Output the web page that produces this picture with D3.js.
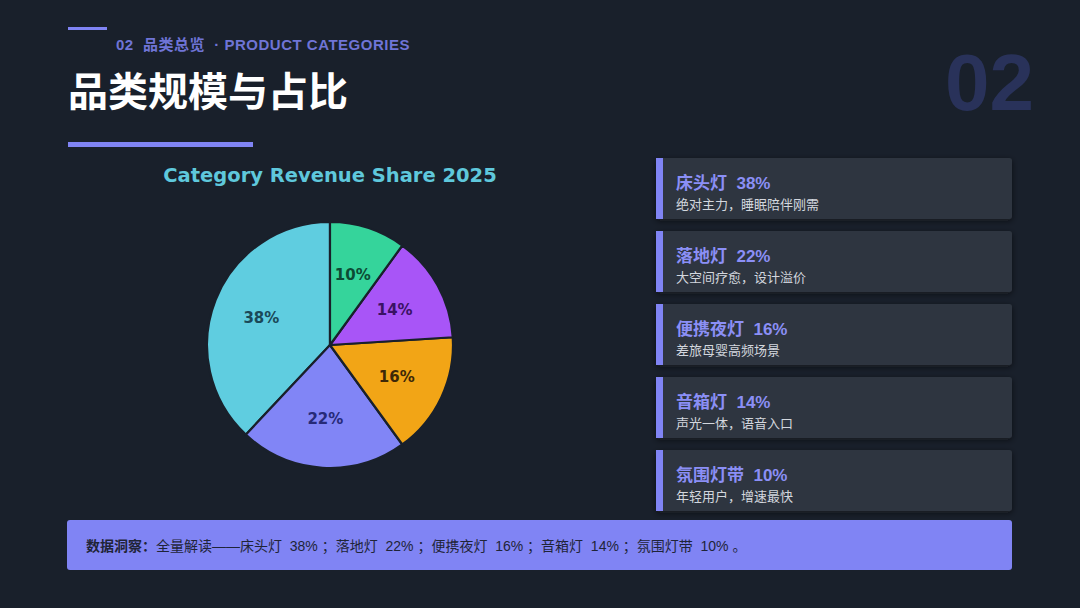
<!DOCTYPE html>
<html>
<head>
<meta charset="utf-8">
<script src="https://cdn.jsdelivr.net/npm/d3@7"></script>
<style>
  html, body { margin: 0; padding: 0; background: #19202b; }
  svg { display: block; }
</style>
</head>
<body>
<div id="slide"></div>
<script>
// Data
const categories = ["床头灯", "落地灯", "便携夜灯", "音箱灯", "氛围灯带"];
const shares = [38, 22, 16, 14, 10];
const notes = ["绝对主力，睡眠陪伴刚需", "大空间疗愈，设计溢价", "差旅母婴高频场景", "声光一体，语音入口", "年轻用户，增速最快"];
const sliceColors = ["#5fcde0", "#8185f6", "#f2a516", "#a855f7", "#35d49b"];
const labelColors = ["#1a4858", "#272a78", "#3d2808", "#3a1264", "#0c4a34"];

const width = 1080;
const height = 608;
const accent = "#8084f4";
const cjk = "'Noto Sans CJK SC', 'Noto Sans', sans-serif";
const mixed = "'Liberation Sans', 'Noto Sans CJK SC', sans-serif";

const svg = d3.select("#slide")
  .append("svg")
  .attr("width", width)
  .attr("height", height);

svg.append("rect")
  .attr("width", width)
  .attr("height", height)
  .attr("fill", "#19202b");

// Shadow filter for cards
const defs = svg.append("defs");
const shadow = defs.append("filter")
  .attr("id", "shadow")
  .attr("x", "-10%").attr("y", "-20%")
  .attr("width", "120%").attr("height", "150%");
shadow.append("feDropShadow")
  .attr("dx", 0).attr("dy", 2)
  .attr("stdDeviation", 3)
  .attr("flood-color", "#0b0f16")
  .attr("flood-opacity", 0.6);

// Header
svg.append("rect")
  .attr("x", 68).attr("y", 27)
  .attr("width", 39).attr("height", 3)
  .attr("fill", accent);

svg.append("text")
  .attr("x", 116).attr("y", 50)
  .attr("font-family", mixed)
  .attr("font-size", 15)
  .attr("font-weight", 700)
  .attr("letter-spacing", 0.5)
  .attr("fill", "#6f74d6")
  .style("white-space", "pre")
  .text("02  品类总览  · PRODUCT CATEGORIES");

svg.append("text")
  .attr("x", 68).attr("y", 106)
  .attr("font-family", cjk)
  .attr("font-size", 40)
  .attr("font-weight", 700)
  .attr("fill", "#ffffff")
  .text("品类规模与占比");

svg.append("rect")
  .attr("x", 68).attr("y", 142)
  .attr("width", 185).attr("height", 5)
  .attr("fill", accent);

svg.append("text")
  .attr("x", 1034).attr("y", 110)
  .attr("text-anchor", "end")
  .attr("font-family", "'Liberation Sans', Arial, sans-serif")
  .attr("font-size", 80)
  .attr("font-weight", 700)
  .attr("fill", "#29325a")
  .text("02");

// Pie chart
const cx = 330, cy = 345, radius = 123;

svg.append("text")
  .attr("x", cx).attr("y", 182)
  .attr("text-anchor", "middle")
  .attr("font-family", "'DejaVu Sans', sans-serif")
  .attr("font-size", 19.5)
  .attr("font-weight", 700)
  .attr("fill", "#5fc8dc")
  .text("Category Revenue Share 2025");

const pie = d3.pie()
  .sort(null)
  .startAngle(0)
  .endAngle(-2 * Math.PI)
  .value(d => d);

const arc = d3.arc().innerRadius(0).outerRadius(radius);
const labelArc = d3.arc().innerRadius(radius * 0.6).outerRadius(radius * 0.6);

const pieG = svg.append("g")
  .attr("transform", `translate(${cx},${cy})`);

const slices = pie(shares);

pieG.selectAll("path")
  .data(slices)
  .enter()
  .append("path")
  .attr("d", arc)
  .attr("fill", (d, i) => sliceColors[i])
  .attr("stroke", "#19202b")
  .attr("stroke-width", 2.2)
  .attr("stroke-linejoin", "round");

pieG.selectAll("text")
  .data(slices)
  .enter()
  .append("text")
  .attr("transform", d => `translate(${labelArc.centroid(d)})`)
  .attr("text-anchor", "middle")
  .attr("dy", "0.35em")
  .attr("font-family", "'DejaVu Sans', sans-serif")
  .attr("font-size", 15)
  .attr("font-weight", 700)
  .attr("fill", (d, i) => labelColors[i])
  .text(d => d.data + "%");

// Cards
const cardY = d3.scaleBand()
  .domain(categories)
  .range([158, 511])
  .paddingInner(12 / 73)
  .paddingOuter(0);

const cards = svg.append("g")
  .selectAll("g")
  .data(categories)
  .enter()
  .append("g")
  .attr("transform", d => `translate(656,${cardY(d)})`);

cards.append("rect")
  .attr("width", 356)
  .attr("height", cardY.bandwidth())
  .attr("rx", 3)
  .attr("fill", "#2f3640")
  .attr("filter", "url(#shadow)");

cards.append("rect")
  .attr("width", 7)
  .attr("height", cardY.bandwidth())
  .attr("fill", accent);

cards.append("text")
  .attr("x", 20).attr("y", 31)
  .attr("font-family", mixed)
  .attr("font-size", 17)
  .attr("font-weight", 700)
  .attr("fill", "#8b8ff6")
  .style("white-space", "pre")
  .text((d, i) => d + "  " + shares[i] + "%");

cards.append("text")
  .attr("x", 20).attr("y", 51)
  .attr("font-family", cjk)
  .attr("font-size", 13)
  .attr("fill", "#d3d7de")
  .text((d, i) => notes[i]);

// Insight bar
svg.append("rect")
  .attr("x", 67).attr("y", 520)
  .attr("width", 945).attr("height", 50)
  .attr("rx", 3)
  .attr("fill", "#8084f4");

const insight = svg.append("text")
  .attr("x", 86).attr("y", 551)
  .attr("font-family", mixed)
  .attr("font-size", 14)
  .attr("fill", "#1f2438")
  .style("white-space", "pre");

insight.append("tspan")
  .attr("font-weight", 700)
  .text("数据洞察：");

insight.append("tspan")
  .text("全量解读——" + categories.map((c, i) => c + "  " + shares[i] + "% ").join("；") + "。");
</script>
</body>
</html>
